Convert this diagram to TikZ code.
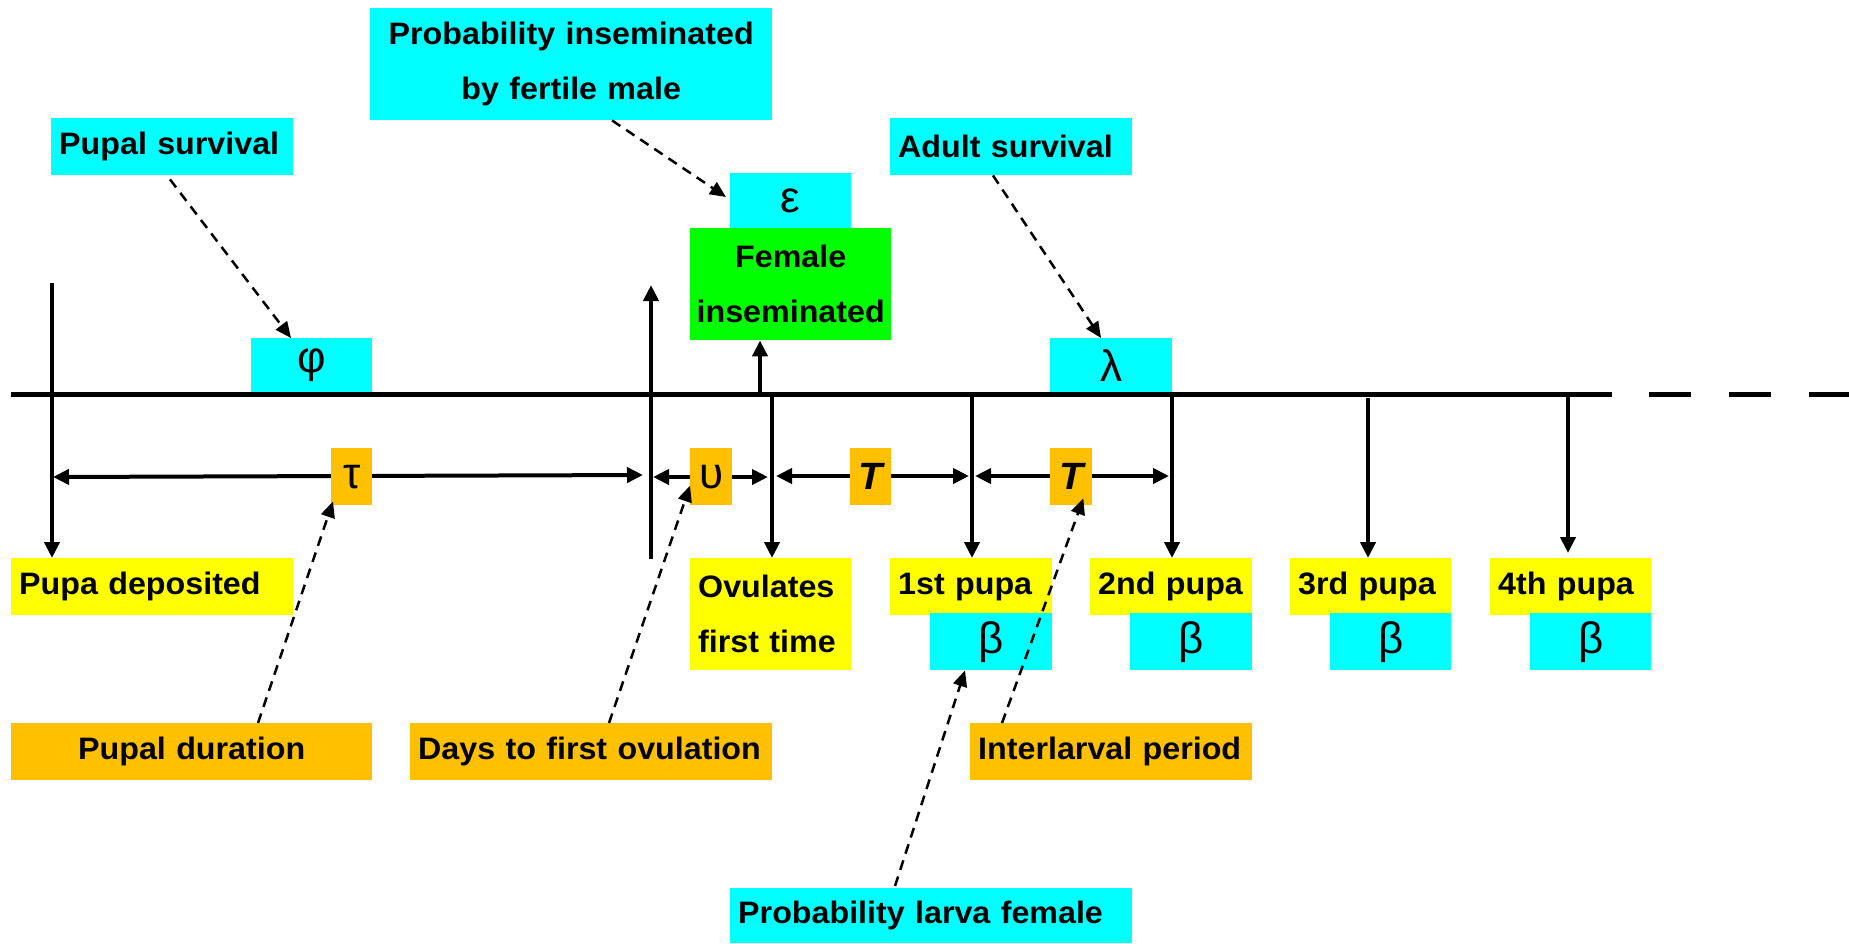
\documentclass[tikz,border=0pt]{standalone}
\usepackage{fontspec}
\setmainfont{Liberation Sans}[FakeStretch=1.04]
\newfontfamily\grfam{Liberation Sans}
\usetikzlibrary{arrows.meta,calc}
\definecolor{cy}{HTML}{00FFFF}
\definecolor{yel}{HTML}{FFFF00}
\definecolor{org}{HTML}{FFC000}
\definecolor{grn}{HTML}{00FF00}
\newcommand\mytxt{\bfseries\fontsize{31}{55}\selectfont}
\newcommand\mygr{\grfam\fontsize{44}{44}\selectfont}
\newcommand\myT{\bfseries\itshape\fontsize{38}{38}\selectfont}
\begin{document}
\begin{tikzpicture}[x=1pt,y=-1pt,
 bx/.style={anchor=north west, inner xsep=8pt, inner ysep=0pt, font=\mytxt},
 sym/.style={anchor=north west, inner sep=0pt, font=\mygr},
 tsym/.style={anchor=north west, inner sep=0pt, font=\myT, fill=org, minimum width=41pt, minimum height=57pt},
 ar/.style={line width=4pt, -{Triangle[length=16pt,width=15pt]}},
 dar/.style={line width=4pt, {Triangle[length=16pt,width=15pt]}-{Triangle[length=16pt,width=15pt]}},
 dsh/.style={line width=2.5pt, dash pattern=on 10pt off 7pt, -{Triangle[length=16pt,width=14pt]}},
]
\useasboundingbox (0,0) rectangle (1849,943);

% time line
\coordinate (ls) at (11,394);
\coordinate (le) at (1612,394);
\coordinate (ds) at (1649,394);
\coordinate (de) at (1849,394);
\draw[line width=5pt] (ls) -- (le);
\draw[line width=5pt, dash pattern=on 42pt off 38pt] (ds) -- (de);

% boxes
\node[bx, fill=cy, text width=386pt, align=center, minimum height=112pt] (pinsem) at (370,8) {Probability inseminated\\by fertile male};
\node[bx, fill=cy, text width=226pt, align=left, minimum height=57pt] (psurv) at (51,118) {Pupal survival};
\node[bx, fill=cy, text width=226pt, align=left, minimum height=57pt] (asurv) at (890,118) {Adult survival};
\node[sym, fill=cy, minimum width=121pt, minimum height=55pt] (eps) at (730,173) {ε};
\node[bx, fill=grn, inner xsep=5.5pt, text width=190pt, align=center, minimum height=112pt] (fem) at (690,228) {Female\\inseminated};
\node[sym, fill=cy, minimum width=121pt, minimum height=54pt] (phi) at (251,338) {φ};
\node[sym, fill=cy, minimum width=122pt, minimum height=54pt] (lam) at (1050,338) {λ};

% vertical lines and arrows
\coordinate (v0t) at (52,283);
\coordinate (v1t) at (651,285);
\coordinate (v1b) at (651,559);
\coordinate (ins) at (760,394);
\coordinate (v2t) at (772,397);
\coordinate (v3t) at (972,394);
\coordinate (v4t) at (1172,394);
\coordinate (v5t) at (1368,398);
\coordinate (v6t) at (1568,394);
\coordinate (v6b) at (1568,553);

\node[bx, fill=yel, text width=266pt, align=left, minimum height=57pt] (pdep) at (11,558) {Pupa deposited};
\node[bx, fill=yel, text width=145pt, align=left, minimum height=112pt] (ovul) at (690,558) {Ovulates\\first time};
\node[bx, fill=yel, text width=146pt, align=left, minimum height=57pt] (p1) at (890,558) {1st pupa};
\node[bx, fill=yel, text width=146pt, align=left, minimum height=57pt] (p2) at (1090,558) {2nd pupa};
\node[bx, fill=yel, text width=145pt, align=left, minimum height=57pt] (p3) at (1290,558) {3rd pupa};
\node[bx, fill=yel, text width=145pt, align=left, minimum height=57pt] (p4) at (1490,558) {4th pupa};
\node[sym, fill=cy, minimum width=122pt, minimum height=57pt] (b1) at (930,613) {β};
\node[sym, fill=cy, minimum width=122pt, minimum height=57pt] (b2) at (1130,613) {β};
\node[sym, fill=cy, minimum width=121pt, minimum height=57pt] (b3) at (1330,613) {β};
\node[sym, fill=cy, minimum width=121pt, minimum height=57pt] (b4) at (1530,613) {β};

\draw[ar] (v0t) -- (v0t |- pdep.north);
\draw[ar] (v1b) -- (v1t);
\draw[ar] (ins) -- (ins |- fem.south);
\draw[ar] (v2t) -- (v2t |- ovul.north);
\draw[ar] (v3t) -- (v3t |- p1.north);
\draw[ar] (v4t) -- (v4t |- p2.north);
\draw[ar] (v5t) -- (v5t |- p3.north);
\draw[ar] (v6t) -- (v6b);

% interval arrows
\coordinate (a0) at (53,477);
\coordinate (a1) at (643,475);
\coordinate (a2) at (653,477);
\coordinate (a3) at (768,477);
\coordinate (a4) at (776,476);
\coordinate (a5) at (969,476);
\coordinate (a6) at (975,476);
\coordinate (a7) at (1169,476);
\draw[dar] (a0) -- (a1);
\draw[dar] (a2) -- (a3);
\draw[dar] (a4) -- (a5);
\draw[dar] (a6) -- (a7);

\node[sym, fill=org, minimum width=41pt, minimum height=57pt] (tau) at (331,448) {τ};
\node[sym, fill=org, minimum width=42pt, minimum height=57pt] (ups) at (690,448) {υ};
\node[tsym] (T1) at (850,448) {T};
\node[tsym, minimum width=42pt] (T2) at (1050,448) {T};

% lower labels
\node[bx, fill=org, text width=345pt, align=center, minimum height=57pt] (pdur) at (11,723) {Pupal duration};
\node[bx, fill=org, text width=346pt, align=left, minimum height=57pt] (days) at (410,723) {Days to first ovulation};
\node[bx, fill=org, text width=266pt, align=left, minimum height=57pt] (inter) at (970,723) {Interlarval period};
\node[bx, fill=cy, text width=386pt, align=left, minimum height=55pt] (plarva) at (730,888) {Probability larva female};

% dashed connectors
\draw[dsh] ([xshift=119pt,yshift=-4pt]psurv.south west) -- ([xshift=40pt]phi.north west);
\draw[dsh] ([xshift=242pt]pinsem.south west) -- ([xshift=-4pt,yshift=-24pt]eps.north west);
\draw[dsh] ([xshift=103pt]asurv.south west) -- ([xshift=51pt]lam.north west);
\draw[dsh] ([xshift=247pt]pdur.north west) -- ([xshift=2pt,yshift=4pt]tau.south west);
\draw[dsh] ([xshift=199pt]days.north west) -- ([yshift=-9pt]ups.west);
\draw[dsh] ([xshift=165pt,yshift=2pt]plarva.north west) -- ([xshift=35pt]b1.south west);
\draw[dsh] ([xshift=32pt]inter.north west) -- ([xshift=-9pt,yshift=7pt]T2.south east);
\end{tikzpicture}
\end{document}
